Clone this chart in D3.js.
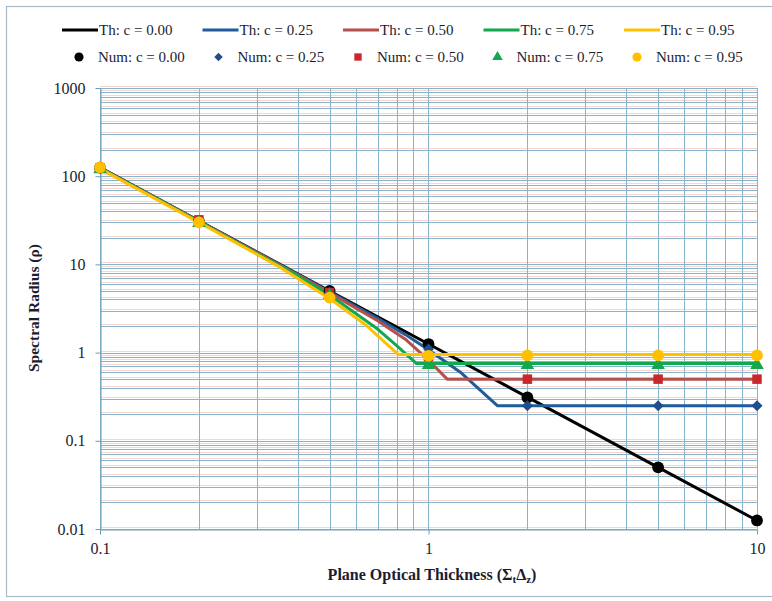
<!DOCTYPE html>
<html>
<head>
<meta charset="utf-8">
<script src="https://cdn.jsdelivr.net/npm/d3@7"></script>
<style>
  html, body { margin: 0; padding: 0; background: #ffffff; }
  svg { display: block; }
  text { font-family: "Liberation Serif", "Times New Roman", serif; }
</style>
</head>
<body>
<svg id="chart" width="772" height="601"></svg>
<script>
// ---- data -------------------------------------------------------------
const seriesNames = ["c = 0.00", "c = 0.25", "c = 0.50", "c = 0.75", "c = 0.95"];

// theoretical spectral radius curves (x = plane optical thickness, y = rho)
const thX000 = [0.1, 0.2, 0.5, 1, 2, 5, 10];
const thY000 = [125, 31.25, 5, 1.25, 0.3125, 0.05, 0.0125];
const thX025 = [0.1, 0.2, 0.4, 0.5, 0.7, 0.85, 1, 1.25, 1.62, 10];
const thY025 = [125, 31, 7.7, 4.9, 2.45, 1.6, 1.08, 0.6, 0.25, 0.25];
const thX050 = [0.1, 0.2, 0.4, 0.5, 0.7, 0.85, 1, 1.14, 10];
const thY050 = [124, 31, 7.6, 4.75, 2.3, 1.42, 0.82, 0.5, 0.5];
const thX075 = [0.1, 0.2, 0.4, 0.5, 0.7, 0.8, 0.92, 10];
const thY075 = [123, 30.5, 7.45, 4.5, 1.85, 1.2, 0.75, 0.75];
const thX095 = [0.1, 0.2, 0.35, 0.5, 0.65, 0.81, 10];
const thY095 = [122, 30, 9.5, 4.1, 2.0, 0.95, 0.95];

// numerically estimated spectral radius
const numX = [0.1, 0.2, 0.5, 1, 2, 5, 10];
const numY000 = [125, 31, 5, 1.25, 0.31, 0.05, 0.0125];
const numY025 = [124, 31, 4.8, 1.1, 0.25, 0.25, 0.25];
const numY050 = [124, 32, 4.8, 0.9, 0.5, 0.5, 0.5];
const numY075 = [120, 29.5, 4.5, 0.72, 0.72, 0.72, 0.72];
const numY095 = [126, 30, 4.2, 0.92, 0.93, 0.93, 0.93];

const xTicks = [0.1, 1, 10];
const yTicks = [0.01, 0.1, 1, 10, 100, 1000];
const xTickLabels = ["0.1", "1", "10"];
const yTickLabels = ["0.01", "0.1", "1", "10", "100", "1000"];

// ---- styling ----------------------------------------------------------
const thColors  = ["#000000", "#1f5c99", "#b5504c", "#12a84e", "#ffc000"];
const numColors = ["#000000", "#1f4e8c", "#c8282b", "#12a84e", "#ffc000"];
const numShapes = [d3.symbolCircle, d3.symbolSquare, d3.symbolSquare, d3.symbolTriangle, d3.symbolCircle];
const numRotate = [0, 45, 0, 0, 0];
const numSizes  = [110, 60, 90, 80, 110];

const thSeries = [
  [thX000, thY000], [thX025, thY025], [thX050, thY050], [thX075, thY075], [thX095, thY095]
];
const numSeries = [numY000, numY025, numY050, numY075, numY095];

// ---- layout -----------------------------------------------------------
const svg = d3.select("#chart");
const plot = { left: 100, right: 757, top: 88, bottom: 529 };

const x = d3.scaleLog().domain([0.1, 10]).range([plot.left, plot.right]);
const y = d3.scaleLog().domain([0.01, 1000]).range([plot.bottom, plot.top]);

// outer frame
svg.append("rect")
  .attr("x", 6.5).attr("y", 6.5).attr("width", 790).attr("height", 590)
  .attr("fill", "#ffffff").attr("stroke", "#a7bccb").attr("stroke-width", 1.2);

// grid values: 1..9 x each decade
function decadeValues(lo, hi) {
  const out = [];
  for (let e = Math.round(Math.log10(lo)); e < Math.round(Math.log10(hi)); e++) {
    for (let k = 1; k <= 9; k++) out.push(k * Math.pow(10, e));
  }
  out.push(hi);
  return out;
}
const gridX = decadeValues(0.1, 10);
const gridY = decadeValues(0.01, 1000);

const grid = svg.append("g").attr("shape-rendering", "crispEdges");
// soft warm fringe above each horizontal rule
grid.selectAll("line.gyf").data(gridY).join("line")
  .attr("class", "gyf")
  .attr("x1", plot.left).attr("x2", plot.right)
  .attr("y1", d => Math.round(y(d)) - 1.5).attr("y2", d => Math.round(y(d)) - 1.5)
  .attr("stroke", "#f5d6cf").attr("stroke-width", 1);
grid.selectAll("line.gy").data(gridY).join("line")
  .attr("class", "gy")
  .attr("x1", plot.left).attr("x2", plot.right)
  .attr("y1", d => Math.round(y(d)) + 0.5).attr("y2", d => Math.round(y(d)) + 0.5)
  .attr("stroke", "#86b4cc").attr("stroke-width", 1);
grid.selectAll("line.gx").data(gridX).join("line")
  .attr("class", "gx")
  .attr("y1", plot.top).attr("y2", plot.bottom)
  .attr("x1", d => Math.round(x(d)) + 0.5).attr("x2", d => Math.round(x(d)) + 0.5)
  .attr("stroke", "#86b4cc").attr("stroke-width", 1);

// axes
const yAxis = d3.axisLeft(y).tickValues(yTicks).tickFormat((d, i) => yTickLabels[i])
  .tickSize(5).tickSizeOuter(0).tickPadding(10);
const xAxis = d3.axisBottom(x).tickValues(xTicks).tickFormat((d, i) => xTickLabels[i])
  .tickSize(5).tickSizeOuter(0).tickPadding(8);

const gy = svg.append("g").attr("transform", `translate(${plot.left + 0.5},0)`).call(yAxis);
const gx = svg.append("g").attr("transform", `translate(0,${plot.bottom + 0.5})`).call(xAxis);
[gx, gy].forEach(g => {
  g.selectAll("path.domain").attr("stroke", "#6f9db7");
  g.selectAll(".tick line").attr("stroke", "#6f9db7");
  g.selectAll(".tick text")
    .attr("fill", "#1c1c30")
    .style("font-family", '"Liberation Serif", "Times New Roman", serif')
    .style("font-size", "16px");
});

// theoretical curves
const line = d3.line().x(d => x(d[0])).y(d => y(d[1]));
svg.append("g").selectAll("path").data(thSeries).join("path")
  .attr("d", s => line(s[0].map((v, i) => [v, s[1][i]])))
  .attr("fill", "none")
  .attr("stroke", (s, i) => thColors[i])
  .attr("stroke-width", 3)
  .attr("stroke-linejoin", "round")
  .attr("stroke-linecap", "round");

// numerical points
numSeries.forEach((vals, si) => {
  const sym = d3.symbol().type(numShapes[si]).size(numSizes[si]);
  svg.append("g").selectAll("path").data(vals).join("path")
    .attr("d", sym)
    .attr("transform", (v, i) => `translate(${x(numX[i])},${y(v)}) rotate(${numRotate[si]})`)
    .attr("fill", numColors[si]);
});

// axis titles
svg.append("text")
  .attr("transform", "translate(39,308) rotate(-90)")
  .attr("text-anchor", "middle")
  .attr("fill", "#1c1c30")
  .style("font-size", "15.5px").style("font-weight", "bold")
  .text("Spectral Radius (\u03C1)");

const xt = svg.append("text")
  .attr("x", 432).attr("y", 580)
  .attr("text-anchor", "middle")
  .attr("fill", "#1c1c30")
  .style("font-size", "16px").style("font-weight", "bold");
xt.append("tspan").text("Plane Optical Thickness (\u03A3");
xt.append("tspan").attr("baseline-shift", "-25%").style("font-size", "11px").text("t");
xt.append("tspan").text("\u0394");
xt.append("tspan").attr("baseline-shift", "-25%").style("font-size", "11px").text("z");
xt.append("tspan").text(")");

// legend
const legend = svg.append("g");
seriesNames.forEach((name, i) => {
  const lx = 62 + i * 140.5;
  legend.append("line")
    .attr("x1", lx).attr("x2", lx + 36).attr("y1", 30).attr("y2", 30)
    .attr("stroke", thColors[i]).attr("stroke-width", 3);
  legend.append("text")
    .attr("x", lx + 37).attr("y", 35)
    .attr("fill", "#1c1c30").style("font-size", "15px")
    .text("Th: " + name);

  const mx = 79 + i * 139.5;
  legend.append("path")
    .attr("d", d3.symbol().type(numShapes[i]).size(numSizes[i] * 0.6)())
    .attr("transform", `translate(${mx},57) rotate(${numRotate[i]})`)
    .attr("fill", numColors[i]);
  legend.append("text")
    .attr("x", mx + 19).attr("y", 62)
    .attr("fill", "#1c1c30").style("font-size", "15px")
    .text("Num: " + name);
});
</script>
</body>
</html>
